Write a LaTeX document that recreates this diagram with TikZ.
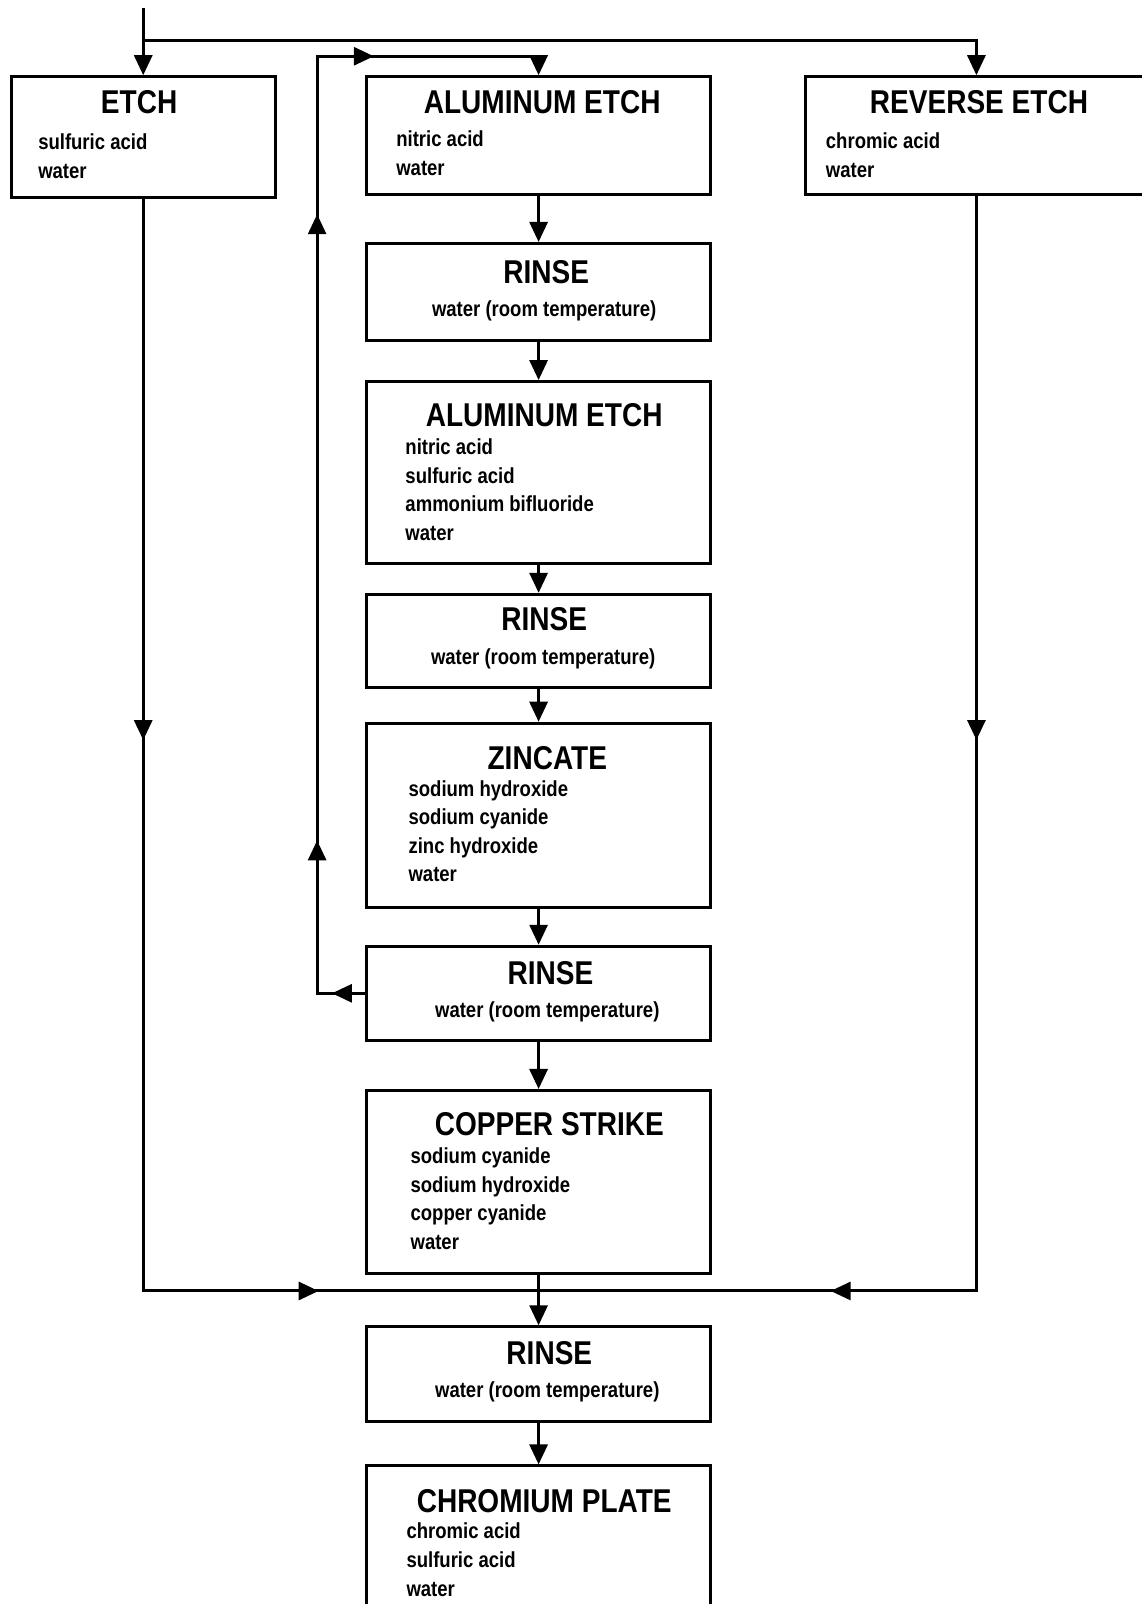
\documentclass[tikz,border=0pt]{standalone}
\usepackage{fontspec}
\setmainfont{Liberation Sans}[FakeStretch=0.85]
\usetikzlibrary{arrows.meta,fit,decorations.markings}

\tikzset{
  Head/.tip={Triangle[length=10pt,width=9pt]},
  stage/.style={draw, line width=1.5pt, inner sep=0pt, fit={#1}},
  title/.style={inner sep=0pt, font=\fontsize{16.5}{20}\selectfont\bfseries},
  chem/.style={inner sep=0pt, anchor=north west, align=left, font=\fontsize{10.9}{14.3}\selectfont\bfseries},
  water/.style={inner sep=0pt, anchor=north, font=\fontsize{10.9}{14.3}\selectfont\bfseries},
  line/.style={line width=1.5pt},
  flow/.style={line width=1.5pt, -Head}
}

\begin{document}
\begin{tikzpicture}[x=0.5117pt, y=-0.5117pt]
  \useasboundingbox (0,0) rectangle (1116,1568);
  % Three etch tanks on top
  \node[stage={(11,75) (269,193)}] (etch) {};
  \node[title] (etch-t) at (136,100) {ETCH};
  \node[chem] (etch-c) at (37,130.5) {sulfuric acid\\water};
  \node[stage={(358,75) (695,190)}] (aletch) {};
  \node[title] (aletch-t) at (530,100) {ALUMINUM ETCH};
  \node[chem] (aletch-c) at (387,127.5) {nitric acid\\water};
  \node[stage={(787,75) (1122,190)}] (rev) {};
  \node[title] (rev-t) at (957,100) {REVERSE ETCH};
  \node[chem] (rev-c) at (807,129.5) {chromic acid\\water};
  % Center line of tanks
  \node[stage={(358,238) (695,333)}] (rinse1) {};
  \node[title] (rinse1-t) at (534,266) {RINSE};
  \node[water] (rinse1-c) at (532,293.5) {water (room temperature)};
  \node[stage={(358,373) (695,551)}] (aletch2) {};
  \node[title] (aletch2-t) at (532,406) {ALUMINUM ETCH};
  \node[chem] (aletch2-c) at (396,428.5) {nitric acid\\sulfuric acid\\ammonium bifluoride\\water};
  \node[stage={(358,581) (695,672)}] (rinse2) {};
  \node[title] (rinse2-t) at (532,605) {RINSE};
  \node[water] (rinse2-c) at (531,633.5) {water (room temperature)};
  \node[stage={(358,707) (695,887)}] (zinc) {};
  \node[title] (zinc-t) at (535,741) {ZINCATE};
  \node[chem] (zinc-c) at (399,762.5) {sodium hydroxide\\sodium cyanide\\zinc hydroxide\\water};
  \node[stage={(358,925) (695,1017)}] (rinse3) {};
  \node[title] (rinse3-t) at (538,951) {RINSE};
  \node[water] (rinse3-c) at (535,978.5) {water (room temperature)};
  \node[stage={(358,1066) (695,1245)}] (copper) {};
  \node[title] (copper-t) at (537,1099) {COPPER STRIKE};
  \node[chem] (copper-c) at (401,1121.5) {sodium cyanide\\sodium hydroxide\\copper cyanide\\water};
  \node[stage={(358,1297) (695,1390)}] (rinse4) {};
  \node[title] (rinse4-t) at (537,1323) {RINSE};
  \node[water] (rinse4-c) at (535,1350.5) {water (room temperature)};
  \node[stage={(358,1433) (695,1590)}] (chrom) {};
  \node[title] (chrom-t) at (532,1467) {CHROMIUM PLATE};
  \node[chem] (chrom-c) at (397,1488.5) {chromic acid\\sulfuric acid\\water};
  % Feed line on top
  \coordinate (in) at (140,8);
  \coordinate (split) at (140,40);
  \coordinate (loop) at (310,55);
  \coordinate (merge) at (526.5,1262);
  \draw[line] (in) -- (split);
  \draw[flow] (split) -- (etch.north);
  \draw[flow] (split) -| (rev.north);
  % Down the center
  \draw[flow] (aletch) -- (rinse1);
  \draw[flow] (rinse1) -- (aletch2);
  \draw[flow] (aletch2) -- (rinse2);
  \draw[flow] (rinse2) -- (zinc);
  \draw[flow] (zinc) -- (rinse3);
  \draw[flow] (rinse3) -- (copper);
  \draw[flow] (copper) -- (rinse4);
  \draw[flow] (rinse4) -- (chrom);
  % Return loop from rinse back to aluminum etch
  \draw[flow, postaction={decorate}, decoration={markings,
      mark=at position 16.4pt with {\arrow{Head}},
      mark=at position 100.3pt with {\arrow{Head}},
      mark=at position 413.5pt with {\arrow{Head}},
      mark=at position 520.9pt with {\arrow{Head}}}]
    (rinse3.west) -| (loop) -| (aletch.north);
  % Side lines join before the last rinse
  \draw[line, postaction={decorate}, decoration={markings,
      mark=at position 270.7pt with {\arrow{Head}},
      mark=at position 634pt with {\arrow{Head}}}]
    (etch.south) |- (merge);
  \draw[line, postaction={decorate}, decoration={markings,
      mark=at position 272.2pt with {\arrow{Head}},
      mark=at position 620.7pt with {\arrow{Head}}}]
    (rev.south) |- (merge);
\end{tikzpicture}
\end{document}
